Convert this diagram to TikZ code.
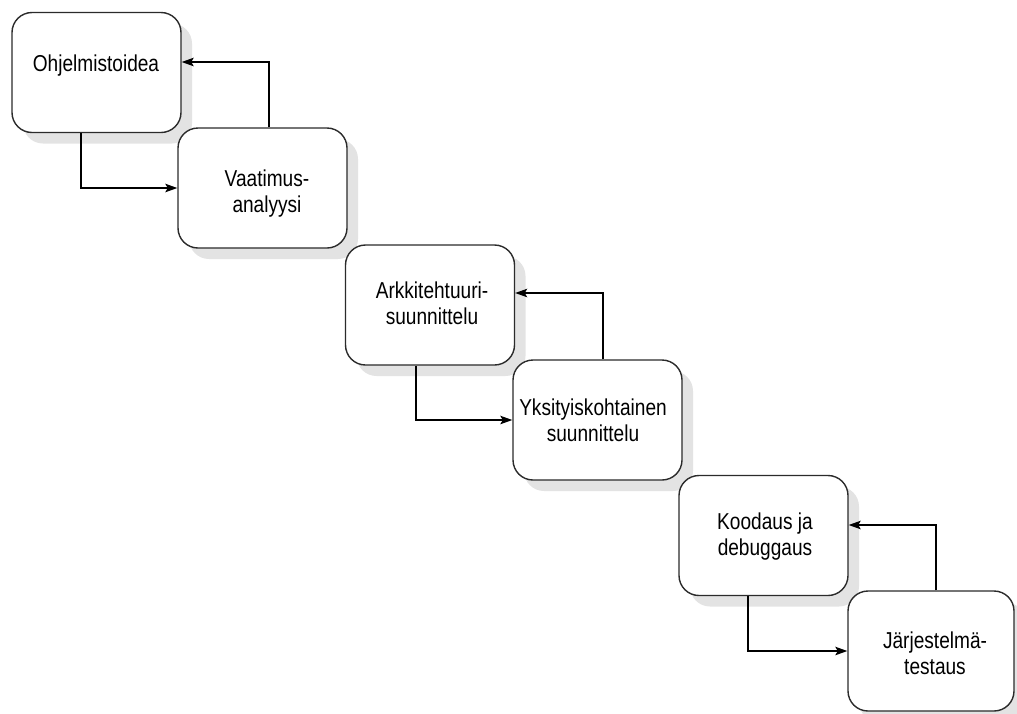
\documentclass[tikz,border=0pt]{standalone}
\usepackage{fontspec}
\setmainfont{Liberation Sans}[FakeStretch=0.83]
\usetikzlibrary{arrows.meta,shadows}
\definecolor{shadowgrey}{HTML}{E3E3E3}
\definecolor{edgegrey}{HTML}{2B2B2B}
\tikzset{
  phase/.style={draw=edgegrey, line width=1.4pt, fill=white, rounded corners=20pt,
    minimum width=169pt, minimum height=120pt, inner sep=0pt,
    drop shadow={shadow xshift=11pt, shadow yshift=-11pt, fill=shadowgrey, opacity=1}},
  phasetext/.style={align=center, inner sep=0pt,
    font=\fontsize{23pt}{26pt}\selectfont},
  flow/.style={draw=black, line width=1.2pt,
    -{Stealth[length=12pt,width=8.5pt,inset=2.5pt]}}
}
\begin{document}
\begin{tikzpicture}[x=1pt,y=-1pt]
\useasboundingbox (0,0) rectangle (1017,713);
% the six phases, stepping down to the right
\node[phase] (b1) at (96.5,72.5) {};
\node[phase] (b2) at (262.5,188) {};
\node[phase] (b3) at (430,305) {};
\node[phase] (b4) at (597.5,420) {};
\node[phase] (b5) at (763.5,535.5) {};
\node[phase, minimum width=166pt] (b6) at (931,651) {};
% phase names
\node[phasetext] (t1) at (96,66) {Ohjelmistoidea};
\node[phasetext] (t2) at (267,194) {Vaatimus-\\analyysi};
\node[phasetext] (t3) at (432,303) {Arkkitehtuuri-\\suunnittelu};
\node[phasetext] (t4) at (593,420) {Yksityiskohtainen\\suunnittelu};
\node[phasetext] (t5) at (765,537) {Koodaus ja\\debuggaus};
\node[phasetext] (t6) at (935,653) {Järjestelmä-\\testaus};
% forward flow: bottom of each phase into the left side of the next
\draw[flow] ([xshift=-15.5pt]b1.south) |- (b2.west);
\draw[flow] ([xshift=-14pt]b3.south) |- (b4.west);
\draw[flow] ([xshift=-15.5pt]b5.south) |- (b6.west);
% feedback: top of each phase back to the right side of the previous
\draw[flow] ([xshift=6.5pt]b2.north) |- ([yshift=10.5pt]b1.east);
\draw[flow] ([xshift=5.5pt]b4.north) |- ([yshift=12pt]b3.east);
\draw[flow] ([xshift=5pt]b6.north) |- ([yshift=10.5pt]b5.east);
\end{tikzpicture}
\end{document}
